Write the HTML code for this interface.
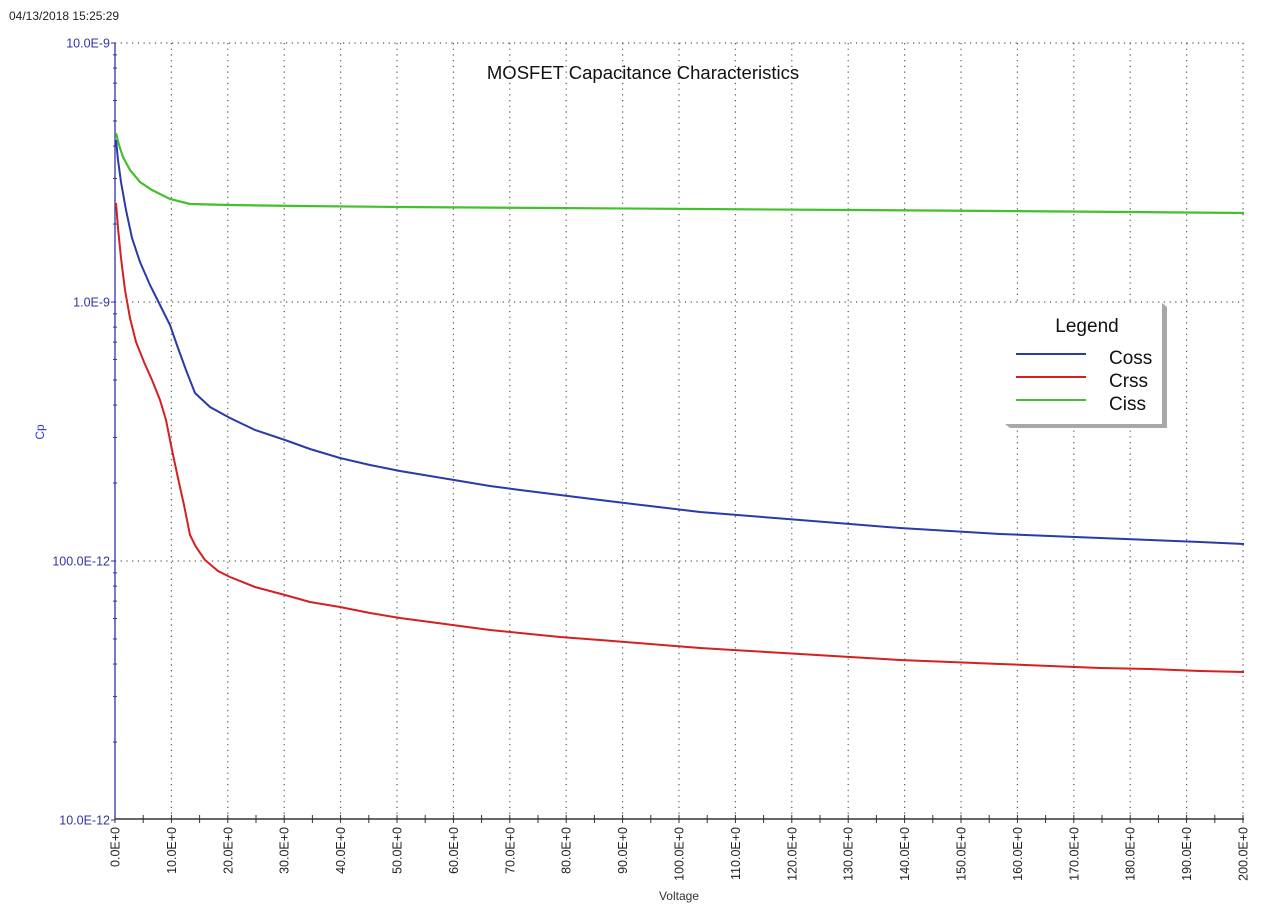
<!DOCTYPE html>
<html><head><meta charset="utf-8"><style>
html,body{margin:0;padding:0;background:#fff;width:1276px;height:924px;overflow:hidden}
svg{display:block;font-family:"Liberation Sans",Arial,sans-serif}
</style></head><body>
<svg id="s" width="1276" height="924" xmlns="http://www.w3.org/2000/svg">
<text x="9" y="20" font-size="12" fill="#222">04/13/2018 15:25:29</text>
<g id="grid"></g>
<text x="643" y="79" font-size="18.5" text-anchor="middle" fill="#111">MOSFET Capacitance Characteristics</text>
<text x="44" y="432" font-size="12" fill="#33c" transform="rotate(-90 44 432)" text-anchor="middle">Cp</text>
<text x="679" y="900" font-size="12" text-anchor="middle" fill="#333">Voltage</text>
<polyline fill="none" stroke="#44c02c" stroke-width="2.2" points="116,133 119,145 123,157 130,170 140,182 152,190 170,199 190,204 230,205 300,206 400,207 550,208 700,209 850,210 1000,211 1130,212 1244,213"/>
<polyline fill="none" stroke="#2a3aa8" stroke-width="2" points="116,140 118,160 121,182 126,210 132,238 140,262 150,285 160,305 170,325 178,348 186,370 195,393 210,407 230,418 255,430 285,440 310,449 340,458 370,465 400,471 430,476 460,481 490,486 520,490 560,495 600,500 650,506 700,512 750,516 800,520 850,524 900,528 950,531 1000,534 1050,536 1100,538 1150,540 1200,542 1244,544"/>
<polyline fill="none" stroke="#d42020" stroke-width="2" points="116,203 118,228 121,258 125,290 130,318 136,342 144,362 152,380 160,400 166,420 172,450 178,478 184,505 190,535 196,547 205,560 218,571 230,577 255,587 285,595 310,602 340,607 370,613 400,618 430,622 460,626 490,630 520,633 560,637 600,640 650,644 700,648 750,651 800,654 850,657 900,660 950,662 1000,664 1050,666 1100,668 1150,669 1200,671 1244,672"/>
<path d="M1167 307 L1167 428 L1010 428 L1005 424 L1162 424 L1162 303 Z" fill="#a8a8a8"/>
<rect x="1005" y="303" width="157" height="121" fill="#fff"/>
<text x="1087" y="332" font-size="19" text-anchor="middle" fill="#111">Legend</text>
<line x1="1016" y1="354" x2="1086" y2="354" stroke="#2a3aa8" stroke-width="2"/>
<line x1="1016" y1="377" x2="1086" y2="377" stroke="#d42020" stroke-width="2"/>
<line x1="1016" y1="400" x2="1086" y2="400" stroke="#44c02c" stroke-width="2"/>
<text x="1109" y="364" font-size="19" fill="#111">Coss</text>
<text x="1109" y="387" font-size="19" fill="#111">Crss</text>
<text x="1109" y="410" font-size="19" fill="#111">Ciss</text>
</svg>
<script>
var g=document.getElementById('grid'),h='';
var x0=115,yT=43,dec=259;
for(var i=1;i<=20;i++){var x=x0+i*56.4;h+='<line x1="'+x+'" y1="'+yT+'" x2="'+x+'" y2="819" stroke="#555" stroke-width="1.2" stroke-dasharray="1.2,4.5"/>';}
var yl=['10.0E-9','1.0E-9','100.0E-12','10.0E-12'];
for(var d=0;d<4;d++){var y=yT+d*dec;
 if(d<3)h+='<line x1="'+x0+'" y1="'+y+'" x2="1244" y2="'+y+'" stroke="#555" stroke-width="1.2" stroke-dasharray="1.2,4.5"/>';
 h+='<text x="'+(x0-5)+'" y="'+(y+4.5)+'" font-size="12.5" text-anchor="end" fill="#33a">'+yl[d]+'</text>';
 h+='<line x1="'+(x0-4)+'" y1="'+y+'" x2="'+x0+'" y2="'+y+'" stroke="#33a"/>';
 if(d<3)for(var m=2;m<=9;m++){var yy=yT+(d+1)*dec-Math.log10(m)*dec;h+='<line x1="'+(x0-2)+'" y1="'+yy+'" x2="'+(x0+2)+'" y2="'+yy+'" stroke="#33a"/>';}
}
h+='<line x1="'+x0+'" y1="'+yT+'" x2="'+x0+'" y2="819" stroke="#33a" stroke-width="1.3"/>';
h+='<line x1="'+x0+'" y1="819" x2="1244" y2="819" stroke="#333" stroke-width="1.5"/>';
for(var i=0;i<=40;i++){var x=x0+i*28.2;h+='<line x1="'+x+'" y1="815" x2="'+x+'" y2="823" stroke="#333"/>';}
for(var i=0;i<=20;i++){var x=x0+i*56.4;h+='<text x="'+(x+4.5)+'" y="827" font-size="12.5" text-anchor="end" fill="#222" transform="rotate(-90 '+(x+4.5)+' 827)">'+(i*10)+'.0E+0</text>';}
g.innerHTML=h;
</script>
</body></html>
